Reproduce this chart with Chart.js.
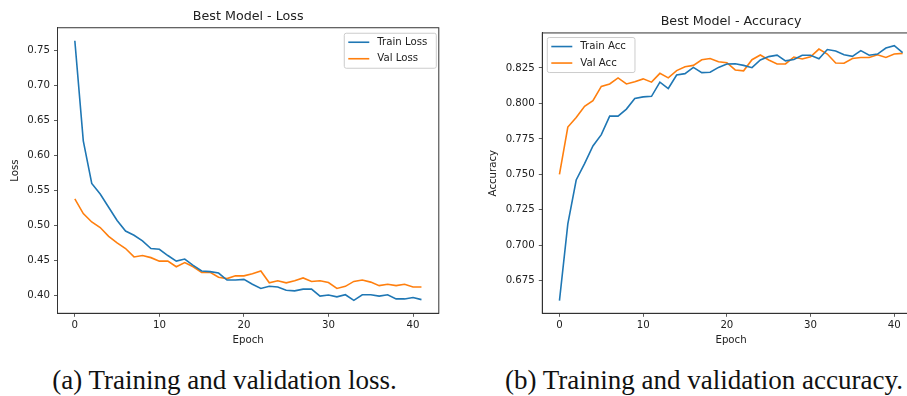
<!DOCTYPE html>
<html>
<head>
<meta charset="utf-8">
<script src="https://cdn.jsdelivr.net/npm/chart.js@4.4.0/dist/chart.umd.min.js"></script>
<style>
  html, body { margin: 0; padding: 0; background: #fff; width: 907px; height: 396px; overflow: hidden; position: relative; }
  canvas { position: absolute; top: 0; }
  #cLoss { left: 0; }
  #cAcc { left: 453px; }
  .cap { position: absolute; white-space: nowrap; font-family: "Liberation Serif", "DejaVu Serif", serif; color: #111; line-height: 1; transform: translate(-50%, -50%); }
</style>
</head>
<body>
<canvas id="cLoss" width="453" height="350"></canvas>
<canvas id="cAcc" width="482" height="350"></canvas>
<div class="cap" id="capA" style="left:224.5px; top:381px;">(a) Training and validation loss.</div>
<div class="cap" id="capB" style="left:704px; top:381px;">(b) Training and validation accuracy.</div>
<script>
// ---------------- data ----------------
const epochs = Array.from({length: 42}, (_, i) => i);
const xTicks = [0, 10, 20, 30, 40];
const lossTicks = [0.40, 0.45, 0.50, 0.55, 0.60, 0.65, 0.70, 0.75];
const accTicks = [0.675, 0.700, 0.725, 0.750, 0.775, 0.800, 0.825];

const trainLoss = [0.764, 0.621, 0.560, 0.545, 0.526, 0.507, 0.492, 0.486, 0.478, 0.467,
  0.466, 0.457, 0.449, 0.452, 0.443, 0.435, 0.434, 0.432, 0.422, 0.422,
  0.423, 0.416, 0.410, 0.413, 0.412, 0.4075, 0.4065, 0.409, 0.409, 0.399,
  0.4005, 0.398, 0.401, 0.393, 0.401, 0.401, 0.399, 0.401, 0.395, 0.395,
  0.397, 0.394];
const valLoss = [0.538, 0.517, 0.505, 0.497, 0.4845, 0.475, 0.467, 0.455, 0.457, 0.454,
  0.449, 0.449, 0.441, 0.447, 0.441, 0.433, 0.433, 0.426, 0.424, 0.428,
  0.428, 0.431, 0.435, 0.418, 0.421, 0.418, 0.421, 0.425, 0.420, 0.421,
  0.4185, 0.410, 0.413, 0.420, 0.422, 0.419, 0.414, 0.416, 0.414, 0.416,
  0.412, 0.412];
const trainAcc = [0.661, 0.715, 0.746, 0.7575, 0.770, 0.778, 0.791, 0.791, 0.796, 0.8034,
  0.8046, 0.805, 0.815, 0.8105, 0.820, 0.821, 0.8254, 0.8217, 0.822, 0.8254,
  0.8278, 0.828, 0.8268, 0.8252, 0.8306, 0.833, 0.834, 0.830, 0.831, 0.834,
  0.834, 0.8315, 0.838, 0.837, 0.8343, 0.8332, 0.8372, 0.834, 0.8348, 0.839,
  0.8407, 0.8358];
const valAcc = [0.750, 0.7833, 0.790, 0.798, 0.802, 0.812, 0.8137, 0.818, 0.8137, 0.8152,
  0.8173, 0.815, 0.8212, 0.818, 0.8231, 0.8259, 0.8268, 0.8308, 0.8317, 0.8294,
  0.8287, 0.8236, 0.823, 0.8308, 0.8341, 0.8306, 0.8278, 0.8278, 0.8327, 0.8313,
  0.8329, 0.8383, 0.8348, 0.8285, 0.8283, 0.8317, 0.8324, 0.8324, 0.8343, 0.8324,
  0.8348, 0.8353];

// ---------------- styling ----------------
const BLUE = '#1f77b4', ORANGE = '#ff7f0e';
const FONT = '"DejaVu Sans", sans-serif';
const TXT = '#222';
Chart.defaults.font.family = FONT;
Chart.defaults.color = TXT;

function mplRange(arrs) {
  const all = arrs.flat();
  const mn = Math.min(...all), mx = Math.max(...all);
  const m = (mx - mn) * 0.05;
  return [mn - m, mx + m];
}

const mplFrame = {
  id: 'mplFrame',
  afterDraw(chart, args, opts) {
    const {ctx, chartArea: a} = chart;
    ctx.save();
    ctx.strokeStyle = '#333';
    ctx.lineWidth = 1;
    ctx.strokeRect(a.left, a.top, a.right - a.left, a.bottom - a.top);
    // legend (matplotlib style, inside axes)
    ctx.font = '10.2px ' + FONT;
    const dsets = chart.data.datasets;
    const tw = Math.max(...dsets.map(d => ctx.measureText(d.label).width));
    const w = 4 + 20 + 9 + tw + 9, h = 35;
    const x = opts.side === 'right' ? a.right - opts.padX - w : a.left + opts.padX;
    const y = a.top + opts.padY;
    ctx.beginPath();
    ctx.roundRect(x, y, w, h, 2);
    ctx.fillStyle = 'rgba(255,255,255,0.8)';
    ctx.fill();
    ctx.strokeStyle = '#cccccc';
    ctx.lineWidth = 1;
    ctx.stroke();
    dsets.forEach((d, i) => {
      const ry = y + 9 + i * 16.5;
      ctx.beginPath();
      ctx.strokeStyle = d.borderColor;
      ctx.lineWidth = d.borderWidth;
      ctx.moveTo(x + 4, ry);
      ctx.lineTo(x + 25, ry);
      ctx.stroke();
      ctx.fillStyle = TXT;
      ctx.textBaseline = 'middle';
      ctx.textAlign = 'left';
      ctx.fillText(d.label, x + 33, ry);
    });
    ctx.restore();
  }
};

function pts(arr) { return epochs.map((e, i) => ({x: e, y: arr[i]})); }

function makeChart(id, cfg) {
  const [ymin, ymax] = mplRange([cfg.s1, cfg.s2]);
  return new Chart(document.getElementById(id), {
    type: 'line',
    data: {
      datasets: [
        {label: cfg.l1, data: pts(cfg.s1), borderColor: BLUE, backgroundColor: BLUE, borderWidth: 1.6, pointRadius: 0, tension: 0},
        {label: cfg.l2, data: pts(cfg.s2), borderColor: ORANGE, backgroundColor: ORANGE, borderWidth: 1.6, pointRadius: 0, tension: 0}
      ]
    },
    options: {
      responsive: false,
      animation: false,
      devicePixelRatio: 1,
      layout: {padding: {left: 0, right: cfg.padRight, top: 0, bottom: 0}},
      plugins: {
        legend: {display: false},
        tooltip: {enabled: false},
        title: {
          display: true, text: cfg.title, fullSize: false,
          font: {family: FONT, size: 12.7, weight: 'normal', lineHeight: 1.2},
          color: TXT,
          padding: {top: cfg.titleTop, bottom: cfg.titleBottom}
        },
        mplFrame: {side: cfg.legendSide, padX: cfg.legendPadX, padY: cfg.legendPadY}
      },
      scales: {
        x: {
          type: 'linear',
          min: -2.05, max: 43.05,
          afterBuildTicks: s => { s.ticks = xTicks.map(v => ({value: v})); },
          afterFit: s => { s.height = 36.7; },
          grid: {display: true, drawOnChartArea: false, drawTicks: true, tickLength: 3.5, tickColor: '#333', tickWidth: 0.8},
          border: {display: true, color: '#333', width: 1},
          ticks: {font: {size: 10.2}, color: TXT, padding: 2, maxRotation: 0, callback: v => String(v)},
          title: {display: true, text: 'Epoch', font: {size: 10.2}, color: TXT, padding: {top: 0, bottom: 3.3}}
        },
        y: {
          type: 'linear',
          min: ymin, max: ymax,
          afterBuildTicks: s => { s.ticks = cfg.yTicks.map(v => ({value: v})); },
          afterFit: s => { s.width = cfg.yWidth; },
          grid: {display: true, drawOnChartArea: false, drawTicks: true, tickLength: 3.5, tickColor: '#333', tickWidth: 0.8},
          border: {display: true, color: '#333', width: 1},
          ticks: {font: {size: 10.2}, color: TXT, padding: 4, callback: v => v.toFixed(cfg.dec)},
          title: {display: true, text: cfg.yLabel, font: {size: 10.2}, color: TXT, padding: {top: cfg.yTitlePad, bottom: 0}}
        }
      }
    },
    plugins: [mplFrame]
  });
}

makeChart('cLoss', {
  s1: trainLoss, s2: valLoss, l1: 'Train Loss', l2: 'Val Loss',
  title: 'Best Model - Loss', yLabel: 'Loss', yTicks: lossTicks, dec: 2,
  yWidth: 57.5, padRight: 14.2, titleTop: 9.3, titleBottom: 3.2, yTitlePad: 9,
  legendSide: 'right', legendPadX: 2.5, legendPadY: 5.5
});
makeChart('cAcc', {
  s1: trainAcc, s2: valAcc, l1: 'Train Acc', l2: 'Val Acc',
  title: 'Best Model - Accuracy', yLabel: 'Accuracy', yTicks: accTicks, dec: 3,
  yWidth: 89.3, padRight: 15.2, titleTop: 13.9, titleBottom: 3.8, yTitlePad: 34,
  legendSide: 'left', legendPadX: 5, legendPadY: 4.6
});

// caption sizing: fit caption (a) to its measured width in the reference
(function () {
  const c = document.createElement('canvas').getContext('2d');
  c.font = '20px "Liberation Serif"';
  const w = c.measureText(document.getElementById('capA').textContent).width;
  const size = 20 * 345 / w;
  document.getElementById('capA').style.fontSize = size + 'px';
  document.getElementById('capB').style.fontSize = size + 'px';
})();
</script>
</body>
</html>
